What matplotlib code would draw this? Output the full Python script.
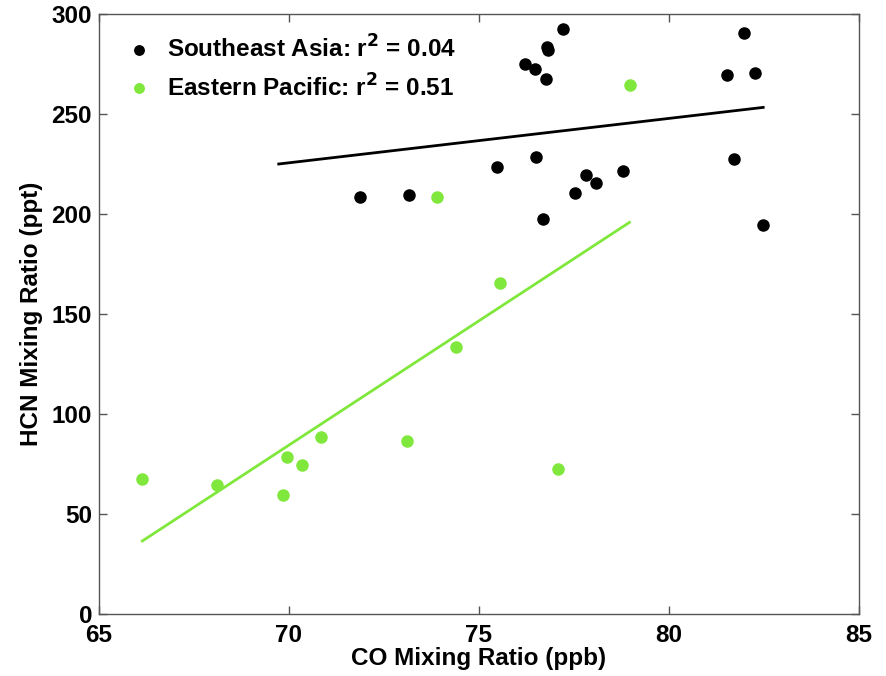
import numpy as np
import matplotlib
matplotlib.use("Agg")
import matplotlib.pyplot as plt

plt.rcParams['font.family'] = ['Liberation Sans', 'DejaVu Sans']
plt.rcParams['font.weight'] = 'bold'
plt.rcParams['mathtext.default'] = 'bf'

# Southeast Asia (black)
sea_co = [71.87, 73.16, 75.48, 76.22, 76.48, 76.49, 76.69, 76.76, 76.78, 76.82,
          77.20, 77.53, 77.82, 78.09, 78.78, 81.54, 81.71, 81.98, 82.27, 82.48]
sea_hcn = [208.7, 209.7, 223.7, 274.8, 272.5, 228.7, 197.5, 267.3, 283.3, 282.0,
           292.5, 210.7, 219.7, 215.7, 221.7, 269.7, 227.5, 290.5, 270.7, 194.7]
# Eastern Pacific (green)
ep_co = [66.12, 68.10, 69.85, 69.96, 70.34, 70.83, 73.10, 73.90, 74.39, 75.55, 77.08, 78.97]
ep_hcn = [67.7, 64.5, 59.5, 78.7, 74.5, 88.5, 86.7, 208.7, 133.7, 165.7, 72.7, 264.5]

# fit lines (end points)
sea_fit_x = [69.73, 82.48]
sea_fit_y = [225.0, 253.3]
ep_fit_x = [66.14, 78.96]
ep_fit_y = [36.5, 195.8]

green = '#80e83c'
fs = 17.5

fig = plt.figure(figsize=(8.87, 6.76), dpi=100)
ax = fig.add_axes([0.1116, 0.0917, 0.8568, 0.8876])

ax.plot(sea_co, sea_hcn, 'o', color='black', markersize=8, linestyle='none',
        label='Southeast Asia: r$^2$ = 0.04')
ax.plot(ep_co, ep_hcn, 'o', color=green, markersize=8, linestyle='none',
        label='Eastern Pacific: r$^2$ = 0.51')
ax.plot(sea_fit_x, sea_fit_y, color='black', linewidth=2)
ax.plot(ep_fit_x, ep_fit_y, color=green, linewidth=2)

ax.set_xlim(65, 85)
ax.set_ylim(0, 300)
ax.set_xticks([65, 70, 75, 80, 85])
ax.set_yticks([0, 50, 100, 150, 200, 250, 300])
ax.tick_params(direction='in', length=6, width=1, top=True, right=True,
               labelsize=fs, color='#555555')
ax.tick_params(axis='x', pad=7)
ax.tick_params(axis='y', pad=5)
for s in ax.spines.values():
    s.set_color('#555555')
    s.set_linewidth(1)

ax.set_xlabel('CO Mixing Ratio (ppb)', fontsize=fs, fontweight='bold', labelpad=0)
ax.set_ylabel('HCN Mixing Ratio (ppt)', fontsize=fs, fontweight='bold', labelpad=6)

leg = ax.legend(loc='upper left', frameon=False, fontsize=fs, markerscale=0.85,
                handletextpad=0.4, borderaxespad=0.5, labelspacing=0.45,
                handlelength=1.5, borderpad=0.4)
for t in leg.get_texts():
    t.set_fontweight('bold')

fig.savefig('out.png', dpi=100)
